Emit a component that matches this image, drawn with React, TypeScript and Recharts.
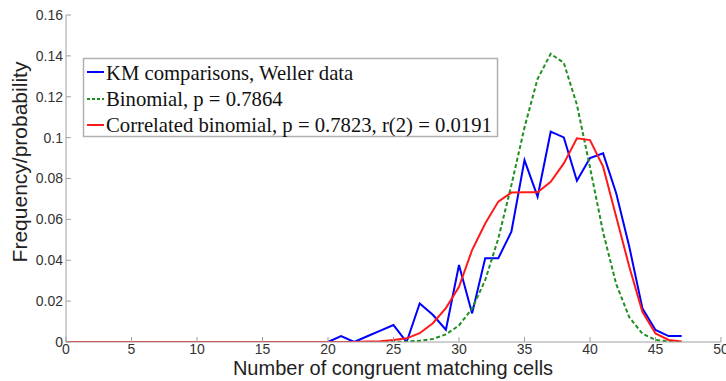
import React from "react";
import { LineChart, Line, XAxis, YAxis } from "recharts";

const cells = [0,1,2,3,4,5,6,7,8,9,10,11,12,13,14,15,16,17,18,19,20,21,22,23,24,25,26,27,28,29,30,31,32,33,34,35,36,37,38,39,40,41,42,43,44,45,46,47];

const kmWeller = [0,0,0,0,0,0,0,0,0,0,0,0,0,0,0,0,0,0,0,0,0,0.0029,0,0.0028,0.0056,0.0083,0,0.0189,0.0133,0.006,0.0377,0.014,0.041,0.041,0.054,0.089,0.0711,0.1029,0.1001,0.0789,0.09,0.0923,0.0728,0.0466,0.0165,0.0059,0.0029,0.0029];

const binomial = [0,0,0,0,0,0,0,0,0,0,0,0,0,0,0,0,0,0,0,0,0,0,0,0,0,0.0001,0.0002,0.0006,0.0015,0.0037,0.0081,0.0164,0.0303,0.0506,0.0768,0.105,0.1288,0.141,0.1366,0.1161,0.0855,0.0537,0.0283,0.0121,0.0041,0.001,0.0002,0];

const correlated = [0,0,0,0,0,0,0,0,0,0,0,0,0,0,0,0,0,0,0,0,0,0,0,0.0002,0.0004,0.001,0.0018,0.0043,0.0092,0.0166,0.027,0.045,0.058,0.0687,0.0731,0.0733,0.0733,0.0784,0.0874,0.0997,0.0988,0.0858,0.0613,0.0368,0.0148,0.0042,0.001,0.0002];

const xTicks = [0,5,10,15,20,25,30,35,40,45,50];
const yTicks = [0,0.02,0.04,0.06,0.08,0.1,0.12,0.14,0.16];

const legendLabels = [
  "KM comparisons, Weller data",
  "Binomial, p = 0.7864",
  "Correlated binomial, p = 0.7823, r(2) = 0.0191",
];
const xTitle = "Number of congruent matching cells";
const yTitle = "Frequency/probability";

const rows = cells.map((c, i) => ({
  cell: c,
  km: kmWeller[i],
  bin: binomial[i],
  cor: correlated[i],
}));

const BLUE = "#0000ff";
const GREEN = "#1f8f1f";
const RED = "#ff1a1a";
const AXIS = "#a0a0a0";
const tickStyle = { fill: "#333", fontSize: 14, fontFamily: "Liberation Sans, Arial, sans-serif" };

export default function App() {
  return (
    <div style={{ position: "absolute", left: 0, top: 0, width: 726, height: 381, background: "#fff" }}>
      <LineChart width={726} height={381} data={rows} margin={{ top: 15, right: 5, bottom: 0, left: 0 }}>
        <XAxis
          xAxisId="b"
          dataKey="cell"
          type="number"
          domain={[0, 50]}
          ticks={xTicks}
          interval={0}
          height={39}
          tickSize={-5}
          tickMargin={7}
          stroke={AXIS}
          tick={tickStyle}
          allowDataOverflow
        />
        <XAxis
          xAxisId="t"
          orientation="top"
          dataKey="cell"
          type="number"
          domain={[0, 50]}
          ticks={xTicks}
          interval={0}
          height={0}
          tickSize={-5}
          stroke={AXIS}
          tickFormatter={() => ""}
        />
        <YAxis
          yAxisId="l"
          type="number"
          domain={[0, 0.16]}
          ticks={yTicks}
          interval={0}
          width={66}
          tickSize={-5}
          tickMargin={8}
          stroke={AXIS}
          tick={tickStyle}
          allowDataOverflow
        />
        <YAxis
          yAxisId="r"
          orientation="right"
          type="number"
          domain={[0, 0.16]}
          ticks={yTicks}
          interval={0}
          width={0}
          tickSize={-5}
          stroke={AXIS}
          tickFormatter={() => ""}
        />
        <Line xAxisId="b" yAxisId="l" type="linear" dataKey="km" stroke={BLUE} strokeWidth={2} dot={false} isAnimationActive={false} />
        <Line xAxisId="b" yAxisId="l" type="linear" dataKey="bin" stroke={GREEN} strokeWidth={2} strokeDasharray="4 2.5" dot={false} isAnimationActive={false} />
        <Line xAxisId="b" yAxisId="l" type="linear" dataKey="cor" stroke={RED} strokeWidth={2} dot={false} isAnimationActive={false} />
      </LineChart>
      <svg width={726} height={381} style={{ position: "absolute", left: 0, top: 0, pointerEvents: "none" }}>
        <text x={393} y={375} textAnchor="middle" fontSize={20} fontFamily="Liberation Sans, Arial, sans-serif" fill="#222">{xTitle}</text>
        <text transform="rotate(-90)" x={-162} y={27} textAnchor="middle" fontSize={21} fontFamily="Liberation Sans, Arial, sans-serif" fill="#222">{yTitle}</text>
        <rect x={83.5} y={58.5} width={414} height={78} fill="#fff" stroke="#b0b0b0" strokeWidth={1.5} />
        <line x1={87} x2={104} y1={72} y2={72} stroke={BLUE} strokeWidth={2} />
        <line x1={87} x2={104} y1={99} y2={99} stroke={GREEN} strokeWidth={2} strokeDasharray="3 2" />
        <line x1={87} x2={104} y1={125} y2={125} stroke={RED} strokeWidth={2} />
        {legendLabels.map((t, i) => (
          <text key={t} x={106} y={80 + i * 26} fontSize={20.7} fontFamily="Liberation Serif, Times New Roman, serif" fill="#111">{t}</text>
        ))}
      </svg>
    </div>
  );
}
